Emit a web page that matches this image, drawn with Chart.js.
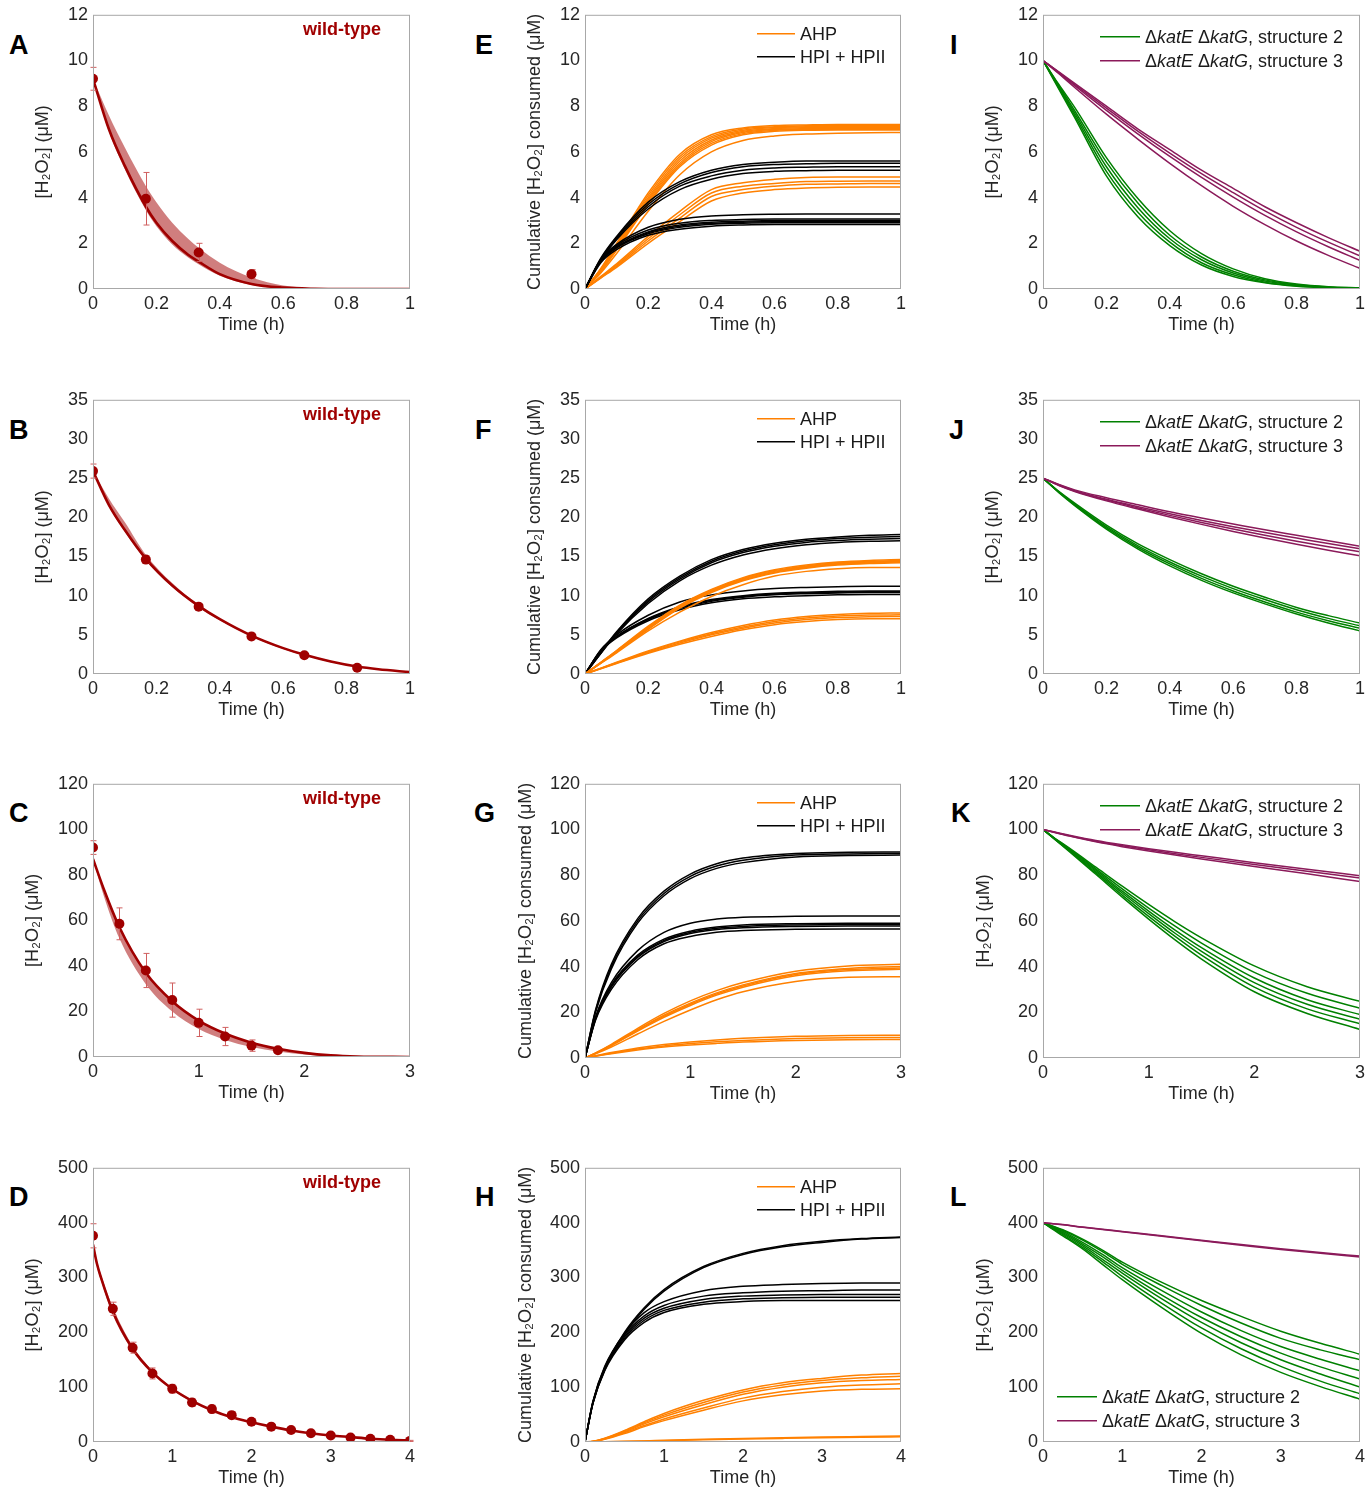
<!DOCTYPE html>
<html>
<head>
<meta charset="utf-8">
<script src="https://cdn.jsdelivr.net/npm/chart.js@4.4.1/dist/chart.umd.min.js"></script>
<style>
  body { margin: 0; background: #fff; width: 1372px; height: 1488px; position: relative; overflow: hidden; }
  canvas { position: absolute; }
  .lbl { position: absolute; font: bold 27px/27px "Liberation Sans", Arial, sans-serif; color: #000; }
</style>
</head>
<body>
<div class="lbl" style="left:9px;top:32px">A</div>
<div class="lbl" style="left:9px;top:417px">B</div>
<div class="lbl" style="left:9px;top:800px">C</div>
<div class="lbl" style="left:9px;top:1184px">D</div>
<div class="lbl" style="left:475px;top:32px">E</div>
<div class="lbl" style="left:475px;top:417px">F</div>
<div class="lbl" style="left:474px;top:800px">G</div>
<div class="lbl" style="left:475px;top:1184px">H</div>
<div class="lbl" style="left:950px;top:32px">I</div>
<div class="lbl" style="left:949px;top:417px">J</div>
<div class="lbl" style="left:951px;top:800px">K</div>
<div class="lbl" style="left:950px;top:1184px">L</div>
<script>
// ---- wild-type panels (A-D): fit line, shaded band, measured points ----
const timeA   = [0, 0.05, 0.1, 0.167, 0.2, 0.25, 0.3, 0.333, 0.4, 0.5, 0.6, 0.7, 0.8, 1];
const fitA    = [9.2, 7.0, 5.4, 3.6, 2.9, 2.1, 1.5, 1.2, 0.65, 0.22, 0.06, 0.01, 0, 0];
const bandHiA = [9.2, 7.6, 6.2, 4.5, 3.8, 2.9, 2.2, 1.8, 1.15, 0.5, 0.15, 0.04, 0.01, 0];
const bandLoA = [9.2, 6.9, 5.25, 3.45, 2.75, 1.95, 1.38, 1.08, 0.58, 0.18, 0.04, 0.01, 0, 0];
const obsTimeA = [0, 0.1667, 0.3333, 0.5];
const obsA     = [9.2, 3.95, 1.6, 0.65];
const errA     = [0.5, 1.15, 0.4, 0.2];

const timeB   = [0, 0.05, 0.1, 0.167, 0.25, 0.333, 0.4, 0.5, 0.6, 0.667, 0.75, 0.833, 0.9, 1];
const fitB    = [25.9, 21.6, 18.4, 14.7, 11.3, 8.7, 7.0, 4.9, 3.3, 2.45, 1.6, 0.95, 0.6, 0.25];
const bandHiB = [25.9, 22.4, 19.4, 15.2, 11.6, 8.8, 7.05, 4.95, 3.35, 2.5, 1.65, 1.0, 0.65, 0.3];
const bandLoB = [25.9, 21.4, 18.2, 14.5, 11.1, 8.5, 6.85, 4.8, 3.2, 2.35, 1.5, 0.9, 0.55, 0.2];
const obsTimeB = [0, 0.1667, 0.3333, 0.5, 0.6667, 0.8333];
const obsB     = [25.9, 14.6, 8.6, 4.8, 2.4, 0.8];
const errB     = [0.9, 0.5, 0.3, 0.2, 0.2, 0.2];

const timeC   = [0, 0.1, 0.25, 0.5, 0.75, 1, 1.25, 1.5, 1.75, 2, 2.25, 2.5, 3];
const fitC    = [87, 74, 57, 37, 24.5, 16, 10.3, 6.3, 3.6, 1.8, 0.7, 0.2, 0];
const bandHiC = [87, 74, 57, 37, 24.5, 16, 10.3, 6.3, 3.6, 1.8, 0.7, 0.2, 0];
const bandLoC = [87, 71, 52, 32, 20, 12.3, 7.5, 4.4, 2.4, 1.1, 0.4, 0.1, 0];
const obsTimeC = [0, 0.25, 0.5, 0.75, 1, 1.25, 1.5, 1.75];
const obsC     = [92, 58.5, 38, 25, 15, 9, 5, 3];
const errC     = [3, 7, 7.5, 7.5, 6, 4, 2.5, 1];

const timeD   = [0, 0.05, 0.1, 0.25, 0.5, 0.75, 1, 1.25, 1.5, 1.75, 2, 2.25, 2.5, 2.75, 3, 3.25, 3.5, 3.75, 4];
const fitD    = [360, 325, 300, 238, 170, 127, 97, 75, 58, 45, 36, 28, 21, 16, 12, 9, 6, 4, 3];
const bandHiD = [362, 330, 306, 246, 175, 130, 99, 76, 59, 46, 36.5, 28.5, 21.5, 16.5, 12.3, 9.2, 6.2, 4.2, 3.1];
const bandLoD = [358, 320, 295, 232, 166, 124, 95, 73, 57, 44, 35, 27.5, 20.5, 15.5, 11.7, 8.8, 5.8, 3.8, 2.9];
const obsTimeD = [0, 0.25, 0.5, 0.75, 1, 1.25, 1.5, 1.75, 2, 2.25, 2.5, 2.75, 3, 3.25, 3.5, 3.75, 4];
const obsD     = [376, 243, 172, 125, 97, 72, 60, 49, 37, 28, 22, 16, 12, 8, 6, 4, 2];
const errD     = [22, 12, 10, 10, 8, 7, 7, 6, 5, 4, 3, 3, 3, 2, 2, 2, 1];

// ---- cumulative consumption panels (E-H): AHP (orange) and HPI + HPII (black) ----
const timeE = [0, 0.05, 0.1, 0.2, 0.3, 0.4, 0.5, 0.6, 0.7, 0.8, 0.9, 1];
const ahpE = [
  [0, 0.9, 2.0, 4.2, 5.9, 6.75, 7.05, 7.15, 7.18, 7.2, 7.2, 7.2],
  [0, 0.87, 1.95, 4.1, 5.8, 6.67, 7.0, 7.1, 7.14, 7.16, 7.16, 7.16],
  [0, 0.85, 1.9, 4.0, 5.7, 6.6, 6.95, 7.07, 7.1, 7.12, 7.12, 7.12],
  [0, 0.82, 1.85, 3.92, 5.6, 6.52, 6.9, 7.02, 7.06, 7.07, 7.07, 7.07],
  [0, 0.8, 1.8, 3.85, 5.5, 6.45, 6.85, 6.98, 7.02, 7.03, 7.03, 7.03],
  [0, 0.77, 1.75, 3.77, 5.42, 6.37, 6.8, 6.94, 6.98, 6.99, 6.99, 6.99],
  [0, 0.75, 1.7, 3.7, 5.35, 6.3, 6.75, 6.9, 6.95, 6.96, 6.96, 6.96],
  [0, 0.7, 1.55, 3.4, 5.0, 6.0, 6.5, 6.7, 6.78, 6.82, 6.84, 6.85],
  [0, 0.55, 1.1, 2.3, 3.4, 4.35, 4.65, 4.8, 4.88, 4.9, 4.9, 4.9],
  [0, 0.52, 1.05, 2.2, 3.25, 4.2, 4.5, 4.62, 4.7, 4.72, 4.73, 4.73],
  [0, 0.5, 1.0, 2.1, 3.1, 4.05, 4.35, 4.5, 4.58, 4.6, 4.62, 4.62],
  [0, 0.48, 0.95, 2.0, 2.95, 3.85, 4.2, 4.35, 4.42, 4.45, 4.46, 4.46]
];
const hpiE = [
  [0, 1.35, 2.3, 3.8, 4.7, 5.2, 5.45, 5.55, 5.6, 5.6, 5.6, 5.6],
  [0, 1.3, 2.25, 3.7, 4.6, 5.1, 5.35, 5.45, 5.48, 5.5, 5.5, 5.5],
  [0, 1.28, 2.2, 3.6, 4.5, 4.95, 5.2, 5.3, 5.33, 5.35, 5.35, 5.35],
  [0, 1.25, 2.15, 3.5, 4.35, 4.8, 5.05, 5.15, 5.18, 5.2, 5.2, 5.2],
  [0, 1.3, 1.95, 2.7, 3.05, 3.2, 3.25, 3.27, 3.28, 3.28, 3.28, 3.28],
  [0, 1.27, 1.9, 2.58, 2.88, 3.0, 3.04, 3.06, 3.06, 3.06, 3.06, 3.06],
  [0, 1.25, 1.85, 2.5, 2.8, 2.92, 2.97, 3.0, 3.0, 3.0, 3.0, 3.0],
  [0, 1.22, 1.82, 2.46, 2.75, 2.87, 2.92, 2.95, 2.95, 2.95, 2.95, 2.95],
  [0, 1.2, 1.8, 2.42, 2.7, 2.83, 2.88, 2.9, 2.9, 2.9, 2.9, 2.9],
  [0, 1.15, 1.72, 2.35, 2.62, 2.75, 2.8, 2.82, 2.82, 2.82, 2.82, 2.82]
];

const timeF = [0, 0.05, 0.1, 0.2, 0.3, 0.4, 0.5, 0.6, 0.7, 0.8, 0.9, 1];
const ahpF = [
  [0, 1.5, 3.0, 6.1, 8.8, 10.8, 12.3, 13.3, 13.9, 14.3, 14.5, 14.6],
  [0, 1.47, 2.95, 6.0, 8.7, 10.7, 12.2, 13.2, 13.8, 14.2, 14.4, 14.5],
  [0, 1.45, 2.9, 5.9, 8.6, 10.6, 12.1, 13.1, 13.7, 14.1, 14.3, 14.4],
  [0, 1.42, 2.85, 5.8, 8.5, 10.5, 12.0, 13.0, 13.6, 14.0, 14.2, 14.3],
  [0, 1.4, 2.8, 5.7, 8.4, 10.4, 11.9, 12.9, 13.5, 13.9, 14.1, 14.2],
  [0, 1.35, 2.7, 5.5, 7.9, 9.9, 11.4, 12.5, 13.1, 13.45, 13.6, 13.6],
  [0, 0.75, 1.5, 2.95, 4.2, 5.3, 6.2, 6.9, 7.35, 7.6, 7.75, 7.8],
  [0, 0.72, 1.45, 2.85, 4.1, 5.15, 6.0, 6.7, 7.15, 7.4, 7.52, 7.55],
  [0, 0.7, 1.4, 2.75, 3.95, 5.0, 5.85, 6.5, 6.95, 7.2, 7.32, 7.35],
  [0, 0.68, 1.35, 2.65, 3.8, 4.8, 5.65, 6.3, 6.7, 6.95, 7.05, 7.05]
];
const hpiF = [
  [0, 2.8, 5.4, 9.6, 12.5, 14.6, 15.9, 16.7, 17.2, 17.5, 17.7, 17.8],
  [0, 2.7, 5.3, 9.4, 12.3, 14.4, 15.7, 16.5, 17.0, 17.3, 17.45, 17.55],
  [0, 2.65, 5.2, 9.2, 12.1, 14.2, 15.5, 16.3, 16.8, 17.05, 17.2, 17.3],
  [0, 2.6, 5.1, 9.0, 11.9, 13.9, 15.2, 16.0, 16.5, 16.8, 16.95, 17.0],
  [0, 3.1, 5.0, 7.5, 9.2, 10.1, 10.6, 10.9, 11.05, 11.15, 11.2, 11.2],
  [0, 3.0, 4.8, 7.1, 8.6, 9.5, 10.0, 10.3, 10.45, 10.55, 10.6, 10.6],
  [0, 2.97, 4.75, 7.02, 8.5, 9.4, 9.9, 10.2, 10.35, 10.45, 10.5, 10.5],
  [0, 2.95, 4.7, 6.95, 8.4, 9.3, 9.8, 10.1, 10.25, 10.35, 10.4, 10.4],
  [0, 2.9, 4.6, 6.8, 8.2, 9.1, 9.6, 9.85, 10.0, 10.1, 10.15, 10.15]
];

const timeG = [0, 0.1, 0.25, 0.5, 0.75, 1, 1.25, 1.5, 2, 2.5, 3];
const ahpG = [
  [0, 2.2, 6, 13, 19.5, 25, 29.5, 33, 38, 40.3, 41],
  [0, 2.1, 5.7, 12.4, 18.7, 24, 28.5, 32, 37, 39.2, 40],
  [0, 2.05, 5.55, 12.1, 18.2, 23.5, 28, 31.5, 36.5, 38.7, 39.4],
  [0, 2.0, 5.4, 11.8, 17.8, 23, 27.5, 31, 36, 38.2, 38.8],
  [0, 1.8, 4.8, 10.5, 16, 21, 25.5, 29, 33.5, 35.3, 35.6],
  [0, 1, 2.4, 4.4, 5.9, 7, 7.9, 8.6, 9.5, 9.9, 10],
  [0, 0.9, 2.1, 3.9, 5.3, 6.3, 7.1, 7.7, 8.5, 8.9, 9],
  [0, 0.8, 1.9, 3.5, 4.8, 5.7, 6.4, 7, 7.7, 8, 8.1]
];
const hpiG = [
  [0, 21, 41, 61, 73, 80.5, 85, 87.5, 89.5, 90, 90.2],
  [0, 20.5, 40, 60, 72, 79.5, 84, 86.5, 88.8, 89.3, 89.5],
  [0, 20, 39, 59, 71, 78.5, 83, 85.5, 88, 88.6, 88.8],
  [0, 18, 33, 47, 55, 59, 60.8, 61.6, 62, 62.1, 62.1],
  [0, 17.5, 32, 45, 52, 55.5, 57.3, 58.2, 58.8, 59, 59],
  [0, 17.2, 31.5, 44.5, 51.5, 55, 56.8, 57.6, 58.2, 58.4, 58.4],
  [0, 17, 31, 44, 51, 54.5, 56.2, 57, 57.6, 57.8, 57.8],
  [0, 16.5, 30, 43, 50, 53.2, 55, 55.8, 56.3, 56.5, 56.5]
];

const timeH = [0, 0.1, 0.25, 0.5, 0.75, 1, 1.5, 2, 2.5, 3, 3.5, 4];
const ahpH = [
  [0, 1.2, 7, 21, 37, 52, 76, 95, 108, 116, 122, 125],
  [0, 1.1, 6.5, 20, 35, 49, 72, 91, 104, 112, 117, 120],
  [0, 1, 6, 18.5, 33, 46, 68, 87, 100, 108, 112, 114],
  [0, 0.9, 5.5, 17, 30, 42, 62, 80, 92, 100, 104, 106],
  [0, 0.8, 5, 15.5, 28, 39, 58, 75, 86, 93, 96, 97],
  [0, 0.1, 0.4, 1.2, 2, 3, 4.8, 6.4, 7.8, 9, 10, 11],
  [0, 0.1, 0.3, 1, 1.7, 2.5, 4, 5.4, 6.6, 7.7, 8.6, 9.4]
];
const hpiH = [
  [0, 72, 135, 200, 245, 278, 320, 344, 358, 366, 371, 374],
  [0, 70, 132, 197, 242, 275, 318, 342, 356, 364, 370, 373],
  [0, 74, 138, 198, 236, 256, 276, 284, 287, 289, 290, 290],
  [0, 73, 136, 195, 230, 249, 266, 272, 275, 276, 277, 277],
  [0, 72, 134, 192, 226, 244, 260, 266, 268, 269, 269, 269],
  [0, 71, 132, 189, 222, 240, 255, 261, 263, 264, 264, 264],
  [0, 70, 130, 186, 218, 236, 251, 256, 258, 258, 258, 258]
];

// ---- ΔkatE ΔkatG panels (I-L): structure 2 (green) and structure 3 (purple) ----
const timeI = [0, 0.05, 0.1, 0.2, 0.3, 0.4, 0.5, 0.6, 0.7, 0.8, 0.9, 1];
const str2I = [
  [10, 8.95, 7.95, 5.75, 3.95, 2.55, 1.55, 0.88, 0.45, 0.22, 0.1, 0.05],
  [10, 8.9, 7.8, 5.55, 3.75, 2.35, 1.4, 0.78, 0.4, 0.19, 0.09, 0.04],
  [10, 8.85, 7.7, 5.35, 3.55, 2.2, 1.28, 0.7, 0.35, 0.17, 0.08, 0.03],
  [10, 8.8, 7.6, 5.15, 3.35, 2.05, 1.15, 0.62, 0.3, 0.14, 0.06, 0.03],
  [10, 8.75, 7.5, 4.95, 3.15, 1.9, 1.05, 0.55, 0.27, 0.12, 0.05, 0.02]
];
const str3I = [
  [10, 9.5, 9.0, 8.0, 7.0, 6.1, 5.2, 4.4, 3.6, 2.9, 2.25, 1.65],
  [10, 9.48, 8.95, 7.92, 6.9, 5.95, 5.05, 4.22, 3.42, 2.7, 2.05, 1.45],
  [10, 9.46, 8.9, 7.82, 6.78, 5.8, 4.88, 4.02, 3.22, 2.5, 1.85, 1.25],
  [10, 9.42, 8.82, 7.65, 6.55, 5.5, 4.52, 3.62, 2.82, 2.1, 1.47, 0.9]
];

const timeJ = [0, 0.05, 0.1, 0.2, 0.3, 0.4, 0.5, 0.6, 0.7, 0.8, 0.9, 1];
const str2J = [
  [25, 23.3, 21.8, 19.0, 16.6, 14.6, 12.8, 11.2, 9.8, 8.5, 7.45, 6.5],
  [25, 23.25, 21.7, 18.8, 16.35, 14.3, 12.5, 10.9, 9.5, 8.2, 7.1, 6.15],
  [25, 23.2, 21.6, 18.65, 16.15, 14.05, 12.2, 10.6, 9.2, 7.9, 6.8, 5.85],
  [25, 23.15, 21.5, 18.5, 15.95, 13.8, 11.95, 10.35, 8.95, 7.65, 6.5, 5.5]
];
const str3J = [
  [25, 24.2, 23.5, 22.5, 21.6, 20.7, 19.9, 19.15, 18.4, 17.7, 17.0, 16.3],
  [25, 24.15, 23.4, 22.3, 21.35, 20.45, 19.6, 18.8, 18.05, 17.35, 16.65, 16.0],
  [25, 24.1, 23.35, 22.2, 21.2, 20.25, 19.35, 18.5, 17.7, 16.95, 16.25, 15.6],
  [25, 24.05, 23.3, 22.1, 21.05, 20.05, 19.1, 18.2, 17.35, 16.55, 15.8, 15.1]
];

const timeK = [0, 0.1, 0.25, 0.5, 0.75, 1, 1.25, 1.5, 2, 2.5, 3];
const str2K = [
  [100, 96.6, 91.8, 83.5, 75.2, 67.2, 59.6, 52.6, 40.3, 31.2, 24.8],
  [100, 96.5, 91.5, 82.8, 74, 65.6, 57.7, 50.3, 37.5, 28.3, 21.8],
  [100, 96.4, 91.2, 82.2, 73, 64.3, 56, 48.3, 35, 25.5, 19],
  [100, 96.3, 90.9, 81.6, 72.2, 63.2, 54.6, 46.7, 33, 23.5, 17],
  [100, 96.2, 90.6, 81, 71.3, 62, 53.2, 45, 31, 21.5, 15],
  [100, 96.1, 90.3, 80.4, 70.4, 60.8, 51.7, 43.3, 29, 19.5, 12.5]
];
const str3K = [
  [100, 99, 97.5, 95.2, 93.3, 91.6, 90, 88.5, 85.5, 82.6, 79.8],
  [100, 98.9, 97.3, 94.9, 92.9, 91.1, 89.4, 87.8, 84.7, 81.7, 78.8],
  [100, 98.8, 97.1, 94.6, 92.5, 90.6, 88.8, 87.1, 83.8, 80.6, 77.2]
];

const timeL = [0, 0.1, 0.25, 0.5, 0.75, 1, 1.5, 2, 2.5, 3, 3.5, 4];
const str2L = [
  [400, 395, 387, 370, 350, 328, 291, 258, 229, 202, 180, 160],
  [400, 394.5, 386, 368, 347, 324, 285, 249, 217, 189, 168, 150],
  [400, 393.5, 384, 364, 342, 318, 276, 237, 203, 174, 151, 130],
  [400, 392.5, 382, 361, 338, 313, 268, 227, 192, 162, 137, 115],
  [400, 392, 380, 358, 333, 308, 261, 218, 181, 150, 124, 100],
  [400, 391, 378, 355, 329, 302, 253, 208, 170, 138, 111, 88],
  [400, 390, 376, 352, 324, 296, 245, 198, 159, 127, 101, 78]
];
const str3L = [
  [400, 398.5, 396.5, 392, 388, 384, 376, 368, 360, 352.5, 345.5, 339],
  [400, 398.4, 396.2, 391.6, 387.4, 383.2, 375, 366.8, 358.8, 351, 344, 337.5]
];

// axis ranges [min, max, step]
const x1h = [0, 1, 0.2], x3h = [0, 3, 1], x4h = [0, 4, 1];
const y12 = [0, 12, 2], y35 = [0, 35, 5], y120 = [0, 120, 20], y500 = [0, 500, 100];

const RED = '#a00000', BAND = 'rgba(170,20,20,0.55)', ERR = '#d06060';
const ORANGE = '#ff8000', BLACK = '#000000', GREEN = '#008000', PURPLE = '#8b1a5a';
const Y_CONC = '[H\u2082O\u2082] (\u03bcM)';
const Y_CUM = 'Cumulative [H\u2082O\u2082] consumed (\u03bcM)';
const FONT = '"Liberation Sans", Arial, sans-serif';

Chart.defaults.font.family = FONT;

const pts = (t, v) => t.map((x, i) => ({ x: x, y: v[i] }));

// frame, error bars, legends and the "wild-type" tag
const decor = {
  id: 'decor',
  afterDatasetDraw(chart, args, opts) {
    const e = opts.err;
    if (!e || chart.data.datasets[args.index].label !== 'fit') return;
    const { ctx, scales: { x, y } } = chart;
    ctx.save();
    ctx.strokeStyle = ERR;
    ctx.lineWidth = 1;
    e.t.forEach((t, i) => {
      const px = Math.round(x.getPixelForValue(t)) + 0.5;
      const lo = y.getPixelForValue(e.v[i] - e.e[i]);
      const hi = y.getPixelForValue(e.v[i] + e.e[i]);
      ctx.beginPath();
      ctx.moveTo(px, lo); ctx.lineTo(px, hi);
      ctx.moveTo(px - 3, lo); ctx.lineTo(px + 3, lo);
      ctx.moveTo(px - 3, hi); ctx.lineTo(px + 3, hi);
      ctx.stroke();
    });
    ctx.restore();
  },
  afterDraw(chart, args, opts) {
    const { ctx, chartArea: a } = chart;
    ctx.save();
    ctx.strokeStyle = '#a8a8a8';
    ctx.lineWidth = 1;
    ctx.strokeRect(a.left + 0.5, a.top + 0.5, a.right - a.left - 1, a.bottom - a.top - 1);

    if (opts.tag) {
      ctx.fillStyle = RED;
      ctx.font = 'bold 18px ' + FONT;
      ctx.textAlign = 'center';
      ctx.textBaseline = 'middle';
      ctx.fillText(opts.tag, a.right - 68, a.top + 15);
    }

    const lg = opts.legend;
    if (lg) {
      ctx.textBaseline = 'middle';
      ctx.textAlign = 'left';
      lg.items.forEach((it, k) => {
        const yy = a.top + lg.ys[k];
        ctx.strokeStyle = it.color;
        ctx.lineWidth = 1.5;
        ctx.beginPath();
        ctx.moveTo(a.left + lg.x0, yy);
        ctx.lineTo(a.left + lg.x1, yy);
        ctx.stroke();
        let tx = a.left + lg.tx;
        ctx.fillStyle = '#1a1a1a';
        it.parts.forEach(p => {
          ctx.font = (p.i ? 'italic ' : '') + '18px ' + FONT;
          ctx.fillText(p.t, tx, yy + 1);
          tx += ctx.measureText(p.t).width;
        });
      });
    }
    ctx.restore();
  }
};

const fmt = v => String(Math.round(v * 10) / 10);

function axis(range, title, pad) {
  return {
    type: 'linear', min: range[0], max: range[1],
    ticks: { stepSize: range[2], color: '#262626', font: { size: 18 }, padding: 5,
             autoSkip: false, maxRotation: 0, callback: fmt },
    grid: { display: false, drawTicks: false },
    border: { display: false },
    title: { display: true, text: title, color: '#262626', font: { size: 18 }, padding: pad }
  };
}

function makePanel(rect, cfg) {
  const [L, T, R, B] = rect;
  const cv = document.createElement('canvas');
  cv.width = R - L + 90 + 12;
  cv.height = B - T + 12 + 60;
  cv.style.left = (L - 90) + 'px';
  cv.style.top = (T - 12) + 'px';
  document.body.appendChild(cv);

  const xs = axis(cfg.x, 'Time (h)', { top: 0, bottom: 13 });
  xs.ticks.padding = 4;
  xs.afterFit = s => { s.height = 60; };
  const ys = axis(cfg.y, cfg.ytitle, { top: cfg.ypad, bottom: 0 });
  ys.afterFit = s => { s.width = 90; };

  const chart = new Chart(cv, {
    type: 'line',
    data: { datasets: cfg.datasets },
    options: {
      responsive: false,
      maintainAspectRatio: false,
      animation: false,
      layout: { padding: { top: 12, right: 12, left: 0, bottom: 0 } },
      plugins: { legend: { display: false }, tooltip: { enabled: false }, decor: cfg.decor || {} },
      scales: { x: xs, y: ys }
    },
    plugins: [decor]
  });

  // line the plot area up with the reference rectangle
  const ca = chart.chartArea;
  const dw = (R - L) - Math.round(ca.right - ca.left);
  const dh = (B - T) - Math.round(ca.bottom - ca.top);
  if (dw || dh) chart.resize(cv.width + dw, cv.height + dh);
  const cb = chart.chartArea;
  cv.style.left = (L - Math.round(cb.left)) + 'px';
  cv.style.top = (T - Math.round(cb.top)) + 'px';
}

function wildType(rect, xr, yr, ypad, t, fit, hi, lo, ot, ov, oe) {
  makePanel(rect, {
    x: xr, y: yr, ytitle: Y_CONC, ypad: ypad,
    datasets: [
      { label: 'obs', data: pts(ot, ov), showLine: false, pointRadius: 5,
        pointBackgroundColor: RED, pointBorderWidth: 0, pointBorderColor: 'rgba(0,0,0,0)', order: 0 },
      { label: 'fit', data: pts(t, fit), borderColor: RED, borderWidth: 2.6, pointRadius: 0,
        cubicInterpolationMode: 'monotone', fill: false, order: 1 },
      { label: 'hi', data: pts(t, hi), borderColor: 'rgba(0,0,0,0)', borderWidth: 0, pointRadius: 0,
        cubicInterpolationMode: 'monotone', fill: false, order: 3 },
      { label: 'lo', data: pts(t, lo), borderColor: 'rgba(0,0,0,0)', borderWidth: 0, pointRadius: 0,
        cubicInterpolationMode: 'monotone', fill: '-1', backgroundColor: BAND, order: 2 }
    ],
    decor: { tag: 'wild-type', err: { t: ot, v: ov, e: oe } }
  });
}

function bundles(t, groups) {
  const out = [];
  groups.forEach(([curves, color]) => {
    curves.forEach(c => out.push({
      data: pts(t, c), borderColor: color, borderWidth: 1.5, pointRadius: 0,
      cubicInterpolationMode: 'monotone', fill: false
    }));
  });
  return out;
}

const legendCum = { x0: 172, x1: 210, tx: 215, ys: [19, 42], items: [
  { color: ORANGE, parts: [{ t: 'AHP' }] },
  { color: BLACK, parts: [{ t: 'HPI + HPII' }] }
] };
const strItems = [
  { color: GREEN, parts: [{ t: '\u0394' }, { t: 'katE', i: 1 }, { t: ' \u0394' }, { t: 'katG', i: 1 }, { t: ', structure 2' }] },
  { color: PURPLE, parts: [{ t: '\u0394' }, { t: 'katE', i: 1 }, { t: ' \u0394' }, { t: 'katG', i: 1 }, { t: ', structure 3' }] }
];
const legendStrTop = { x0: 57, x1: 97, tx: 102, ys: [22, 46], items: strItems };
const legendStrBottom = { x0: 14, x1: 54, tx: 59, ys: [229, 253], items: strItems };

// column 1
wildType([93, 15, 410, 289], x1h, y12, 29, timeA, fitA, bandHiA, bandLoA, obsTimeA, obsA, errA);
wildType([93, 400, 410, 674], x1h, y35, 29, timeB, fitB, bandHiB, bandLoB, obsTimeB, obsB, errB);
wildType([93, 784, 410, 1057], x3h, y120, 19, timeC, fitC, bandHiC, bandLoC, obsTimeC, obsC, errC);
wildType([93, 1168, 410, 1442], x4h, y500, 19, timeD, fitD, bandHiD, bandLoD, obsTimeD, obsD, errD);

// column 2
makePanel([585, 15, 901, 289], { x: x1h, y: y12, ytitle: Y_CUM, ypad: 29,
  datasets: bundles(timeE, [[hpiE, BLACK], [ahpE, ORANGE]]), decor: { legend: legendCum } });
makePanel([585, 400, 901, 674], { x: x1h, y: y35, ytitle: Y_CUM, ypad: 29,
  datasets: bundles(timeF, [[ahpF, ORANGE], [hpiF, BLACK]]), decor: { legend: legendCum } });
makePanel([585, 784, 901, 1058], { x: x3h, y: y120, ytitle: Y_CUM, ypad: 20,
  datasets: bundles(timeG, [[hpiG, BLACK], [ahpG, ORANGE]]), decor: { legend: legendCum } });
makePanel([585, 1168, 901, 1442], { x: x4h, y: y500, ytitle: Y_CUM, ypad: 20,
  datasets: bundles(timeH, [[hpiH, BLACK], [ahpH, ORANGE]]), decor: { legend: legendCum } });

// column 3
makePanel([1043, 15, 1360, 289], { x: x1h, y: y12, ytitle: Y_CONC, ypad: 29,
  datasets: bundles(timeI, [[str3I, PURPLE], [str2I, GREEN]]), decor: { legend: legendStrTop } });
makePanel([1043, 400, 1360, 674], { x: x1h, y: y35, ytitle: Y_CONC, ypad: 29,
  datasets: bundles(timeJ, [[str3J, PURPLE], [str2J, GREEN]]), decor: { legend: legendStrTop } });
makePanel([1043, 784, 1360, 1058], { x: x3h, y: y120, ytitle: Y_CONC, ypad: 20,
  datasets: bundles(timeK, [[str3K, PURPLE], [str2K, GREEN]]), decor: { legend: legendStrTop } });
makePanel([1043, 1168, 1360, 1442], { x: x4h, y: y500, ytitle: Y_CONC, ypad: 20,
  datasets: bundles(timeL, [[str3L, PURPLE], [str2L, GREEN]]), decor: { legend: legendStrBottom } });
</script>
</body>
</html>
